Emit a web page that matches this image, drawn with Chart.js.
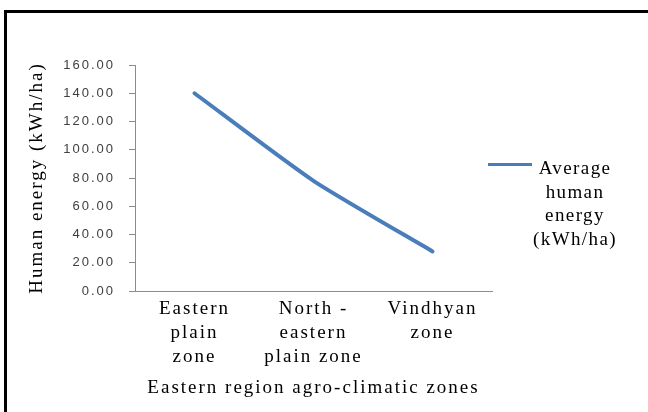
<!DOCTYPE html>
<html>
<head>
<meta charset="utf-8">
<script src="https://cdn.jsdelivr.net/npm/chart.js@4/dist/chart.umd.min.js"></script>
<style>
  html, body { margin: 0; padding: 0; background: #fff; overflow: hidden; }
  #wrap { position: relative; width: 648px; height: 412px; overflow: hidden; }
  #frame { position: absolute; left: 4px; top: 10px; width: 700px; height: 500px;
           border-top: 3px solid #000; border-left: 3px solid #000; pointer-events: none; }
  #legend { position: absolute; left: 488px; top: 150px; width: 140px; height: 110px; }
  #legend .swatch { position: absolute; left: 0; top: 13px; width: 44px; height: 3px; background: #4A7EBB; }
  #legend .txt { position: absolute; left: 37px; top: 6px; width: 100px; text-align: center;
                 font: 19px "Liberation Serif", "Times New Roman", serif; line-height: 23.5px;
                 letter-spacing: 1.4px; color: #000; }
</style>
</head>
<body>
<div id="wrap">
  <canvas id="c" width="648" height="412"></canvas>
  <div id="frame"></div>
  <div id="legend">
    <div class="swatch"></div>
    <div class="txt" id="legendText"></div>
  </div>
</div>
<script>
// Zones on the x axis (multi-line labels)
const zones = [
  ['Eastern', 'plain', 'zone'],
  ['North -', 'eastern', 'plain zone'],
  ['Vindhyan', 'zone']
];
// Average human energy per zone, kWh/ha
const humanEnergy = [140, 78, 28];
const seriesName = ['Average', 'human', 'energy', '(kWh/ha)'];
const yTitle = 'Human energy (kWh/ha)';
const xTitle = 'Eastern region agro-climatic zones';

document.getElementById('legendText').innerHTML = seriesName.join('<br>');

const serif = '"Liberation Serif", "Times New Roman", serif';
const axisGrey = '#8c8c8c';

// Widen the glyph spacing for all canvas text
const spacing = {
  id: 'spacing',
  beforeUpdate(chart) { chart.ctx.letterSpacing = '2px'; },
  beforeDraw(chart) { chart.ctx.letterSpacing = '2px'; }
};

new Chart(document.getElementById('c'), {
  type: 'line',
  data: {
    labels: zones,
    datasets: [{
      label: seriesName.join(' '),
      data: humanEnergy,
      borderColor: '#4A7EBB',
      borderWidth: 4,
      borderCapStyle: 'round',
      borderJoinStyle: 'round',
      tension: 0.2,
      pointRadius: 0,
      fill: false
    }]
  },
  options: {
    responsive: false,
    devicePixelRatio: 1,
    animation: false,
    layout: { padding: { left: 10, right: 156, top: 65, bottom: 0 } },
    plugins: { legend: { display: false }, tooltip: { enabled: false } },
    scales: {
      x: {
        offset: true,
        afterFit(s) { s.height = 121; },
        grid: { display: true, drawOnChartArea: false, drawTicks: false },
        border: { display: true, color: axisGrey, width: 1 },
        ticks: {
          autoSkip: false, maxRotation: 0, minRotation: 0, padding: 6,
          color: '#000',
          font: { family: serif, size: 19, lineHeight: 24 / 19 }
        },
        title: {
          display: true, text: xTitle, color: '#000',
          font: { family: serif, size: 19, lineHeight: 1.2 },
          padding: { top: 0, bottom: 13 }
        }
      },
      y: {
        min: 0, max: 160,
        afterFit(s) { s.width = 125; },
        grid: { display: true, drawOnChartArea: false, drawTicks: true, tickLength: 6, color: axisGrey },
        border: { display: true, color: axisGrey, width: 1 },
        ticks: {
          stepSize: 20, padding: 14, color: '#404040',
          font: { family: '"Liberation Sans", Arial, sans-serif', size: 13 },
          callback: v => Number(v).toFixed(2)
        },
        title: {
          display: true, text: yTitle, color: '#000',
          font: { family: serif, size: 19, lineHeight: 1.2 },
          padding: { top: 16, bottom: 0 }
        }
      }
    }
  },
  plugins: [spacing]
});
</script>
</body>
</html>
